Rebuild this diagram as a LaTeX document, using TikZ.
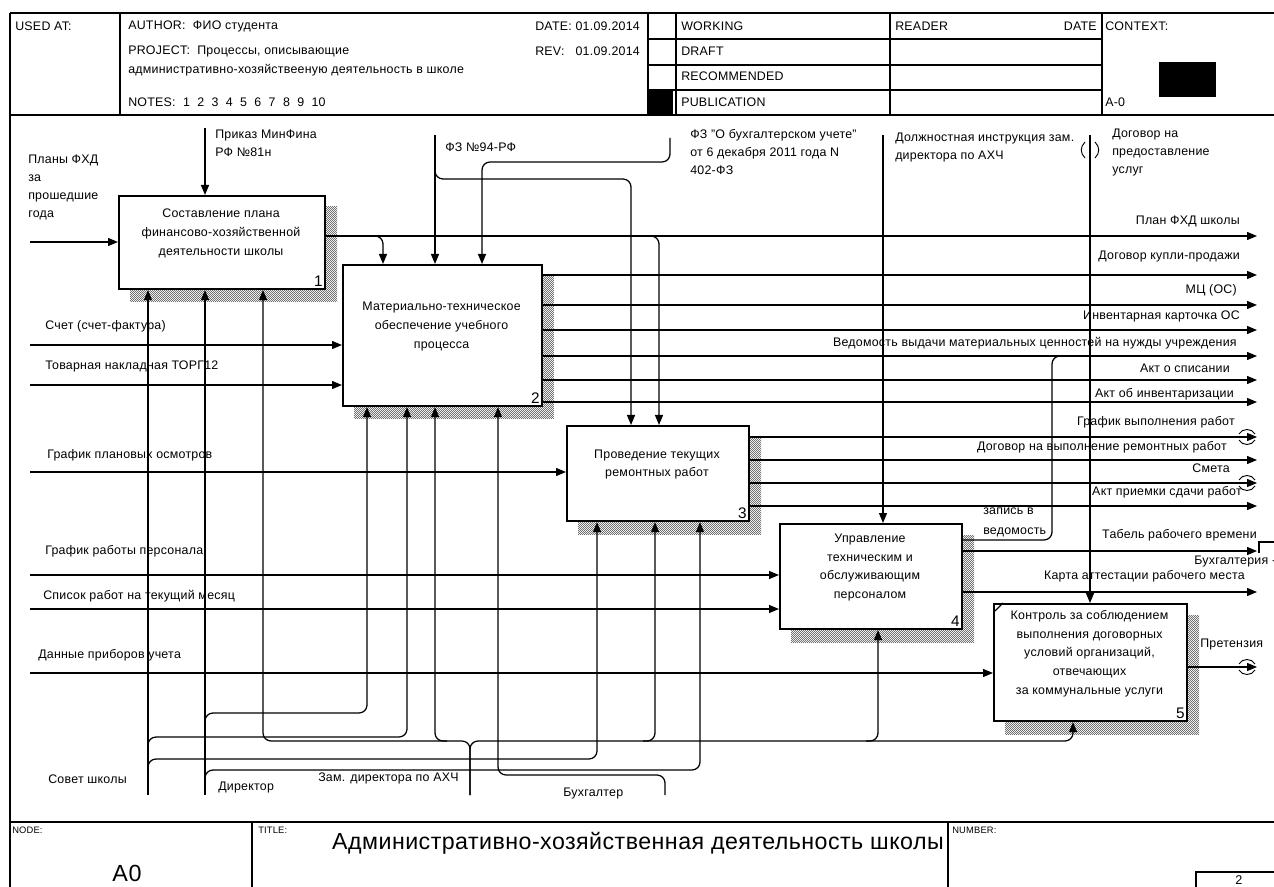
\documentclass[tikz,border=0pt]{standalone}
\usepackage{fontspec}
\setmainfont[LetterSpace=2]{Liberation Sans}
\usetikzlibrary{arrows.meta,patterns}
\pgfdeclarepatternformonly{shadechk}{\pgfpointorigin}{\pgfpoint{1.8pt}{1.8pt}}{\pgfpoint{1.8pt}{1.8pt}}{%
  \pgfpathrectangle{\pgfpointorigin}{\pgfpoint{0.9pt}{0.9pt}}%
  \pgfpathrectangle{\pgfpoint{0.9pt}{0.9pt}}{\pgfpoint{0.9pt}{0.9pt}}%
  \pgfusepath{fill}}
\newcommand\lf{\fontsize{9.3}{13.5}\selectfont}
\newcommand\idefbox[7]{%
  \fill[pattern=shadechk, pattern color=black!55] (#2+12,#3+12) rectangle (#4+13,#5+14);
  \node[box, anchor=north west, minimum width={(#4-#2)*0.75pt}, minimum height={(#5-#3)*0.75pt}] (#1) at (#2,#3) {};
  \node[lbl, align=center, font=\fontsize{9.3}{14}\selectfont] (#1t) at ({(#2+#4)/2},{(#3+#5)/2-8}) {#6};
  \node[lbl, anchor=south east, font=\fontsize{11.5}{11.5}\selectfont] (#1n) at ([xshift=-2.5pt,yshift=2.5pt]#1.south east) {#7};
}
\begin{document}
\begin{tikzpicture}[x=0.75pt,y=-0.75pt,
  box/.style={draw, line width=1.6pt, fill=white, inner sep=0pt},
  ln/.style={line width=0.95pt},
  frm/.style={line width=1pt},
  arr/.style={ln, -{Triangle[length=7.5pt,width=6pt]}},
  lbl/.style={inner sep=0pt, font=\lf},
  tun/.style={line width=0.7pt}]
\useasboundingbox (0,0) rectangle (1274,887);
% ---------- frame ----------
\draw[frm] (10,13) -- (1274,13);
\draw[frm] (10,115) -- (1274,115);
\draw[frm] (10,13) -- (10,887);
\draw[frm] (120,13) -- (120,115);
\draw[frm] (648,13) -- (648,115);
\draw[frm] (676,13) -- (676,115);
\draw[frm] (890,13) -- (890,115);
\draw[frm] (1102,13) -- (1102,115);
\foreach \yy in {39,65,90} \draw[frm] (648,\yy) -- (1102,\yy);
\fill (647,89) rectangle (673,114);
\fill (1159,62) rectangle (1216,97);
\draw[frm] (10,822) -- (1274,822);
\draw[frm] (252,822) -- (252,887);
\draw[frm] (948,822) -- (948,887);
\draw[frm] (1196,887) -- (1196,872) -- (1274,872);
% header text
\node[lbl, anchor=west] (hused) at (15,26) {USED AT:};
\node[lbl, anchor=west] (hauth) at (128,26) {AUTHOR:\ \ ФИО студента};
\node[lbl, anchor=west] (hproj) at (128,51) {PROJECT:\ \ Процессы, описывающие};
\node[lbl, anchor=west] (hproj2) at (128,70) {административно-хозяйствееную деятельность в школе};
\node[lbl, anchor=west] (hnotes) at (128,102) {NOTES:\ \ 1\ \ 2\ \ 3\ \ 4\ \ 5\ \ 6\ \ 7\ \ 8\ \ 9\ \ 10};
\node[lbl, anchor=west] (hdate) at (535,26) {DATE:\ 01.09.2014};
\node[lbl, anchor=west] (hrev) at (535,51) {REV:\ \ \ 01.09.2014};
\node[lbl, anchor=west] (hwork) at (681,26) {WORKING};
\node[lbl, anchor=west] (hdraft) at (681,51) {DRAFT};
\node[lbl, anchor=west] (hrec) at (681,76) {RECOMMENDED};
\node[lbl, anchor=west] (hpub) at (681,102) {PUBLICATION};
\node[lbl, anchor=west] (hread) at (895,26) {READER};
\node[lbl, anchor=east] (hdate2) at (1097,26) {DATE};
\node[lbl, anchor=west] (hctx) at (1105,26) {CONTEXT:};
\node[lbl, anchor=west] (ha0) at (1105,102) {A-0};
% footer text
\node[lbl, anchor=north west, font=\fontsize{7}{7}\selectfont] (fnode) at (12,827) {NODE:};
\node[lbl, anchor=north west, font=\fontsize{7}{7}\selectfont] (ftitle) at (258,827) {TITLE:};
\node[lbl, anchor=north west, font=\fontsize{7}{7}\selectfont] (fnum) at (952,827) {NUMBER:};
\node[lbl, font=\fontsize{17.4}{18}\selectfont] (ftt) at (638,843) {Административно-хозяйственная деятельность школы};
\node[lbl, font=\fontsize{17.5}{18}\selectfont] (fa0) at (127,873) {A0};
\node[lbl, font=\fontsize{9.5}{9.5}\selectfont] (f2) at (1239,880) {2};
% ---------- boxes ----------
\idefbox{b1}{118}{195}{324}{288}{Составление плана\\финансово-хозяйственной\\деятельности школы}{1}
\idefbox{b2}{342}{264}{541}{405}{Материально-техническое\\обеспечение учебного\\процесса}{2}
\idefbox{b3}{566}{425}{748}{520}{Проведение текущих\\ремонтных работ}{3}
\idefbox{b4}{779}{523}{961}{628}{Управление\\техническим и\\обслуживающим\\персоналом}{4}
\idefbox{b5}{993}{603}{1186}{720}{Контроль за соблюдением\\выполнения договорных\\условий организаций,\\отвечающих\\за коммунальные услуги}{5}
\draw[ln] (995,611) -- (1003,603);
% ---------- inputs ----------
\coordinate (i1) at (30,242);
\coordinate (i2) at (30,345);
\coordinate (i3) at (30,385);
\coordinate (i4) at (30,472);
\coordinate (i5) at (30,575);
\coordinate (i6) at (30,609);
\coordinate (i7) at (30,673);
\draw[arr] (i1) -- (i1 -| b1.west);
\draw[arr] (i2) -- (i2 -| b2.west);
\draw[arr] (i3) -- (i3 -| b2.west);
\draw[arr] (i4) -- (i4 -| b3.west);
\draw[arr] (i5) -- (i5 -| b4.west);
\draw[arr] (i6) -- (i6 -| b4.west);
\draw[arr] (i7) -- (i7 -| b5.west);
\node[lbl, anchor=north west, align=left] (li1) at (28,155) {Планы ФХД\\за\\прошедшие\\года};
\node[lbl, anchor=west] (li2) at (45,326) {Счет (счет-фактура)};
\node[lbl, anchor=west] (li3) at (45,366) {Товарная накладная ТОРГ12};
\node[lbl, anchor=west] (li4) at (47,455) {График плановых осмотров};
\node[lbl, anchor=west] (li5) at (45,551) {График работы персонала};
\node[lbl, anchor=west] (li6) at (43,596) {Список работ на текущий месяц};
\node[lbl, anchor=west] (li7) at (38,655) {Данные приборов учета};
% ---------- controls ----------
\coordinate (c1) at (205,128);
\coordinate (c2) at (435,135);
\coordinate (c2j) at (435,170);
\coordinate (c2k) at (631,179);
\coordinate (c3) at (670,138);
\coordinate (c3k) at (482,162);
\coordinate (c4) at (883,135);
\coordinate (c5) at (1090,135);
\draw[arr] (c1) -- (c1 |- b1.north);
\draw[arr] (c2) -- (c2 |- b2.north);
\draw[arr, rounded corners=6] (c2j) -- (c2j |- c2k) -- (c2k) -- (c2k |- b3.north);
\draw[arr, rounded corners=6] (c3) -- (c3 |- c3k) -- (c3k) -- (c3k |- b2.north);
\draw[arr] (c4) -- (c4 |- b4.north);
\draw[arr] (c5) -- (c5 |- b5.north);
\draw[tun] (1085,142) .. controls (1080,147) and (1080,153) .. (1085,158);
\draw[tun] (1095,142) .. controls (1100,147) and (1100,153) .. (1095,158);
\node[lbl, anchor=north west, align=left] (lc1) at (215,130) {Приказ МинФина\\РФ №81н};
\node[lbl, anchor=west] (lc2) at (445,147) {ФЗ №94-РФ};
\node[lbl, anchor=north west, align=left] (lc3) at (690,129) {ФЗ "О бухгалтерском учете"\\от 6 декабря 2011 года N\\402-ФЗ};
\node[lbl, anchor=north west, align=left] (lc4) at (895,133) {Должностная инструкция зам.\\директора по АХЧ};
\node[lbl, anchor=north west, align=left] (lc5) at (1112,129) {Договор на\\предоставление\\услуг};
% ---------- outputs ----------
\coordinate (o1) at (1257,236);
\coordinate (o1a) at (370,236);
\coordinate (o1b) at (383,236);
\coordinate (o1c) at (647,236);
\coordinate (o1d) at (659,236);
\draw[arr] (o1 -| b1.east) -- (o1);
\draw[arr, rounded corners=6] (o1a) -- (o1b) -- (o1b |- b2.north);
\draw[arr, rounded corners=6] (o1c) -- (o1d) -- (o1d |- b3.north);
\foreach \nm/\yy in {o2/275,o3/305,o4/330,o5/356,o6/380,o7/402}{
  \coordinate (\nm) at (1257,\yy);
  \draw[arr] (\nm -| b2.east) -- (\nm);
}
\foreach \nm/\yy in {o8/437,o9/460,o10/483,o11/506}{
  \coordinate (\nm) at (1257,\yy);
  \draw[arr] (\nm -| b3.east) -- (\nm);
}
\coordinate (o12) at (1257,551);
\coordinate (o13) at (1257,592);
\draw[arr] (o12 -| b4.east) -- (o12);
\draw[arr] (o13 -| b4.east) -- (o13);
\coordinate (oz1) at (1052,540);
\coordinate (oz2) at (1066,356);
\draw[ln, rounded corners=6] (oz1 -| b4.east) -- (oz1) -- (oz1 |- oz2) -- (oz2);
\draw[line width=1.5pt] (1259,553) -- (1259,542) -- (1274,542);
\coordinate (o14) at (1257,667);
\draw[arr] (o14 -| b5.east) -- (o14);
% tunnels at output ends
\foreach \yy in {437,483,667}{
  \draw[tun] (1239,\yy-3) .. controls (1242,\yy-9) and (1252,\yy-9) .. (1255,\yy-3);
  \draw[tun] (1239,\yy+3) .. controls (1242,\yy+9) and (1252,\yy+9) .. (1255,\yy+3);
}
\node[lbl, anchor=east] (lo1) at (1240,221) {План ФХД школы};
\node[lbl, anchor=east] (lo2) at (1240,257) {Договор купли-продажи};
\node[lbl, anchor=east] (lo3) at (1237,290) {МЦ (ОС)};
\node[lbl, anchor=east] (lo4) at (1240,316) {Инвентарная карточка ОС};
\node[lbl, anchor=east] (lo5) at (1237,343) {Ведомость выдачи материальных ценностей на нужды учреждения};
\node[lbl, anchor=east] (lo6) at (1230,368) {Акт о списании};
\node[lbl, anchor=east] (lo7) at (1234,394) {Акт об инвентаризации};
\node[lbl, anchor=east] (lo8) at (1235,422) {График выполнения работ};
\node[lbl, anchor=east] (lo9) at (1227,447) {Договор на выполнение ремонтных работ};
\node[lbl, anchor=east] (lo10) at (1230,468) {Смета};
\node[lbl, anchor=east] (lo11) at (1242,492) {Акт приемки сдачи работ};
\node[lbl, anchor=east] (lo12) at (1257,535) {Табель рабочего времени};
\node[lbl, anchor=west] (lo12b) at (1194,562) {Бухгалтерия -};
\node[lbl, anchor=east] (lo13) at (1245,576) {Карта аттестации рабочего места};
\node[lbl, anchor=west] (lo14) at (1200,645) {Претензия};
\node[lbl, anchor=north west, align=left, font=\fontsize{9.3}{15}\selectfont] (loz) at (983,508) {запись в\\ведомость};
% ---------- mechanisms ----------
\coordinate (m1) at (148,795);
\coordinate (m2) at (205,795);
\coordinate (m3) at (470,795);
\coordinate (m4) at (665,795);
\coordinate (m3j) at (470,741);
% Совет школы
\draw[arr] (m1) -- (m1 |- b1.south);
\coordinate (m1a) at (148,746);
\coordinate (m1b) at (407,737);
\draw[arr, rounded corners=6] (m1a) -- (m1a |- m1b) -- (m1b) -- (m1b |- b2.south);
\coordinate (m1c) at (148,768);
\coordinate (m1d) at (597,759);
\draw[arr, rounded corners=6] (m1c) -- (m1c |- m1d) -- (m1d) -- (m1d |- b3.south);
% Директор
\draw[arr] (m2) -- (m2 |- b1.south);
\coordinate (m2a) at (205,722);
\coordinate (m2b) at (367,713);
\draw[arr, rounded corners=6] (m2a) -- (m2a |- m2b) -- (m2b) -- (m2b |- b2.south);
\coordinate (m2c) at (205,779);
\coordinate (m2d) at (700,770);
\draw[arr, rounded corners=6] (m2c) -- (m2c |- m2d) -- (m2d) -- (m2d |- b3.south);
% Зам. директора по АХЧ
\coordinate (m3l) at (263,741);
\coordinate (m3r) at (1073,741);
\draw[arr, rounded corners=6] (m3) -- (m3j) -- (m3l) -- (m3l |- b1.south);
\draw[arr, rounded corners=6] (m3) -- (m3j) -- (m3r) -- (m3r |- b5.south);
\coordinate (m3a) at (435,741);
\draw[arr, rounded corners=6] (447,741) -- (m3a) -- (m3a |- b2.south);
\coordinate (m3b) at (655,741);
\draw[arr, rounded corners=6] (643,741) -- (m3b) -- (m3b |- b3.south);
\coordinate (m3c) at (878,741);
\draw[arr, rounded corners=6] (866,741) -- (m3c) -- (m3c |- b4.south);
% Бухгалтер
\coordinate (m4a) at (498,775);
\draw[arr, rounded corners=6] (m4) -- (m4 |- m4a) -- (m4a) -- (m4a |- b2.south);
\node[lbl, anchor=west] (lm1) at (48,779) {Совет школы};
\node[lbl, anchor=west] (lm2) at (218,788) {Директор};
\node[lbl, anchor=west] (lm3) at (318,778) {Зам. директора по АХЧ};
\node[lbl, anchor=west] (lm4) at (563,794) {Бухгалтер};
\end{tikzpicture}
\end{document}
